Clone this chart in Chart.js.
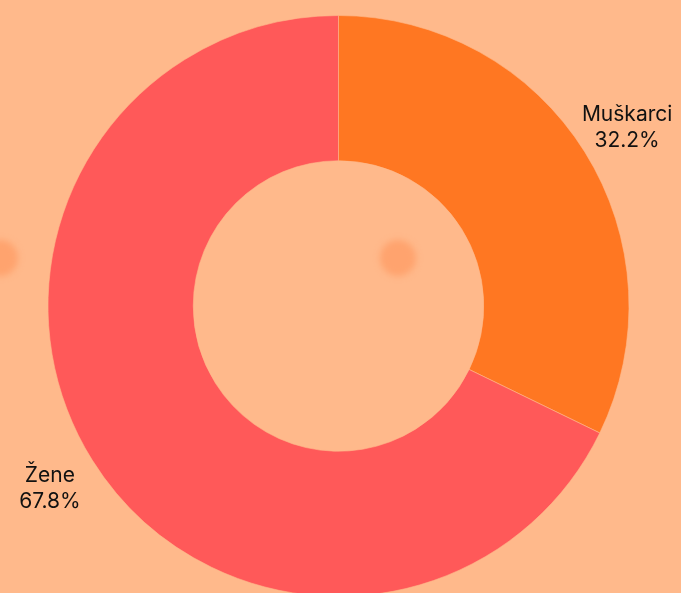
<!DOCTYPE html>
<html>
<head>
<meta charset="utf-8">
<script src="https://cdn.jsdelivr.net/npm/chart.js@4"></script>
<style>
    html, body { margin: 0; padding: 0; width: 681px; height: 593px; overflow: hidden; background: #FFB98B; }
    .dot { position: absolute; width: 36px; height: 36px; border-radius: 50%; background: #FFA36E; filter: blur(3px); }
    #wrap { position: absolute; left: 0; top: 0; width: 681px; height: 612px; }
</style>
</head>
<body>
<div class="dot" style="left:380px;top:240px;"></div>
<div class="dot" style="left:-18px;top:240px;"></div>
<div id="wrap"><canvas id="pieChart"></canvas></div>
<script>
const labels = ['Muškarci', 'Žene'];
const shares = [32.2, 67.8];
const colors = ['#FF7722', '#FF5959'];

const outsideLabels = {
    id: 'outsideLabels',
    afterDatasetsDraw: function (chart) {
        const ctx = chart.ctx;
        const meta = chart.getDatasetMeta(0);
        ctx.save();
        ctx.font = '21px Inter, "Noto Sans", sans-serif';
        ctx.fillStyle = '#111';
        ctx.textAlign = 'center';
        ctx.textBaseline = 'middle';
        meta.data.forEach(function (arc, i) {
            const mid = (arc.startAngle + arc.endAngle) / 2;
            const r = arc.outerRadius * 1.172;
            const x = arc.x + Math.cos(mid) * r;
            const y = arc.y + Math.sin(mid) * r + 2;
            ctx.fillText(labels[i], x, y - 13);
            ctx.fillText(shares[i].toFixed(1) + '%', x, y + 13);
        });
        ctx.restore();
    }
};

new Chart(document.getElementById('pieChart'), {
    type: 'doughnut',
    data: {
        labels: labels,
        datasets: [{
            data: shares,
            backgroundColor: colors,
            borderColor: 'rgba(255, 185, 139, 0.6)',
            borderWidth: 1
        }]
    },
    options: {
        responsive: true,
        maintainAspectRatio: false,
        animation: false,
        cutout: '50%',
        layout: { padding: { left: 11, right: 15, top: 15, bottom: 15 } },
        plugins: {
            legend: { display: false },
            tooltip: { enabled: false }
        }
    },
    plugins: [outsideLabels]
});
</script>
</body>
</html>
